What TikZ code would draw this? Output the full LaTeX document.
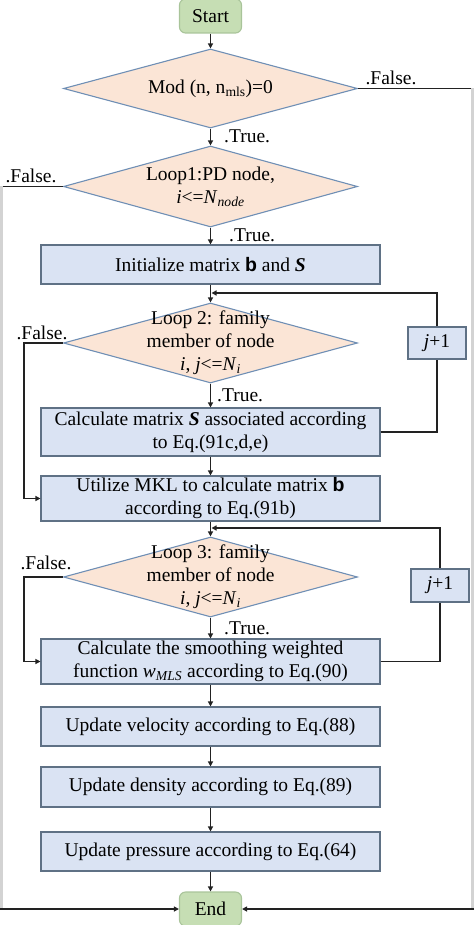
\documentclass[tikz,border=0pt]{standalone}
\usepackage{fontspec}
\setmainfont{Liberation Serif}
\setsansfont{Liberation Sans}
\usetikzlibrary{shapes.geometric,arrows.meta}
\definecolor{boxfill}{HTML}{DAE3F3}
\definecolor{boxline}{HTML}{5F7185}
\definecolor{dfill}{HTML}{FBE5D6}
\definecolor{dline}{HTML}{6F8FB5}
\definecolor{tfill}{HTML}{C6DEB4}
\definecolor{tline}{HTML}{A9C49A}
\definecolor{conn}{HTML}{222222}
\definecolor{edgegray}{HTML}{D3D3D3}
\tikzset{
  every node/.style={font=\fontsize{19.5}{23}\selectfont},
  procbox/.style={rectangle,draw=boxline,fill=boxfill,line width=1.1pt,minimum width=339pt,inner sep=0pt,align=center},
  decbox/.style={diamond,draw=dline,fill=dfill,line width=1.1pt,minimum width=294pt,inner sep=0pt},
  dtext/.style={align=center,inner sep=0pt},
  termbox/.style={rectangle,rounded corners=6pt,draw=tline,fill=tfill,line width=1.1pt,minimum width=62pt,minimum height=34pt,inner sep=0pt},
  incbox/.style={rectangle,draw=boxline,fill=boxfill,line width=1.1pt,minimum width=58pt,minimum height=32pt,inner sep=0pt},
  conline/.style={draw=conn,line width=1.4pt},
  arr/.style={conline,-{Triangle[length=5pt,width=5pt]}},
  edgeline/.style={draw=edgegray,line width=3pt},
  lab/.style={inner sep=0pt}
}
\begin{document}
\begin{tikzpicture}[x=1pt,y=-1pt]
\path[use as bounding box] (0,0) rectangle (474,925);
\clip (0,0) rectangle (474,925);
% nodes
\node[termbox] (start) at (210.5,16) {Start};
\node[decbox,minimum height=79pt] (d1) at (210.5,88.5) {};
\node[dtext] at (d1.center) {Mod (n, n\textsubscript{mls})=0};
\node[decbox,minimum height=81pt] (d2) at (210.5,186.5) {};
\node[dtext] at (d2.center) {Loop1:PD node,\\\textit{i}<=\textit{N}\textsubscript{\textit{node}}};
\node[procbox,minimum height=39pt] (b1) at (210.5,264.5) {Initialize matrix {\sffamily\bfseries b} and \textbf{\textit{S}}};
\node[decbox,minimum height=80pt] (d3) at (210.5,343) {};
\node[dtext] at (d3.center) {Loop 2: family\\member of node\\\textit{i}, \textit{j}<=\textit{N}\textsubscript{\textit{i}}};
\node[procbox,minimum height=48pt] (b2) at (210.5,432) {Calculate matrix \textbf{\textit{S}} associated according\\to Eq.(91c,d,e)};
\node[procbox,minimum height=45pt] (b3) at (210.5,498.5) {Utilize MKL to calculate matrix {\sffamily\bfseries b}\\according to Eq.(91b)};
\node[decbox,minimum height=80pt] (d4) at (210.5,577) {};
\node[dtext] at (d4.center) {Loop 3: family\\member of node\\\textit{i}, \textit{j}<=\textit{N}\textsubscript{\textit{i}}};
\node[procbox,minimum height=45pt] (b4) at (210.5,661.5) {Calculate the smoothing weighted\\function \textit{w}\textsubscript{\textit{MLS}} according to Eq.(90)};
\node[procbox,minimum height=39pt] (b5) at (210.5,726.5) {Update velocity according to Eq.(88)};
\node[procbox,minimum height=40pt] (b6) at (210.5,787) {Update density according to Eq.(89)};
\node[procbox,minimum height=39pt] (b7) at (210.5,851.5) {Update pressure according to Eq.(64)};
\node[termbox] (end) at (210.5,909) {End};
\node[incbox] (j1) at (437,343) {\textit{j}+1};
\node[incbox,minimum height=33pt] (j2) at (440,585.5) {\textit{j}+1};
% coordinates
\coordinate (rtop) at (474,88.5);
\coordinate (rbot) at (474,909);
\coordinate (ltop) at (0,186.5);
\coordinate (lbot) at (0,909);
\coordinate (m3) at (210.5,293);
\coordinate (m4) at (210.5,528);
% main flow
\draw[arr] (start) -- (d1);
\draw[arr] (d1) -- (d2) node[lab,pos=0.45,right=13pt] {.True.};
\draw[arr] (d2) -- (b1) node[lab,pos=0.45,right=18pt] {.True.};
\draw[arr] (b1) -- (d3);
\draw[arr] (d3) -- (b2) node[lab,pos=0.5,right=6pt] {.True.};
\draw[arr] (b2) -- (b3);
\draw[arr] (b3) -- (d4);
\draw[arr] (d4) -- (b4) node[lab,pos=0.5,right=13pt] {.True.};
\draw[arr] (b4) -- (b5);
\draw[arr] (b5) -- (b6);
\draw[arr] (b6) -- (b7);
\draw[arr] (b7) -- (end);
% false branches to end
\draw[conline] (d1.east) -- (rtop);
\node[lab] at (391,78) {.False.};
\draw[edgeline] (472.5,88.5) -- (472.5,909);
\draw[arr] (rbot) -- (end.east);
\draw[conline] (d2.west) -- (ltop);
\node[lab] at (31,176) {.False.};
\draw[edgeline] (1.5,186.5) -- (1.5,909);
\draw[arr] (lbot) -- (end.west);
% loop 2
\draw[conline] (b2.east) -| (j1.south);
\draw[arr] (j1.north) |- ([xshift=1pt]m3);
\draw[arr] (d3.west) -- (24,343) |- (b3.west);
\node[lab] at (42,333) {.False.};
% loop 3
\draw[conline] (b4.east) -| (j2.south);
\draw[arr] (j2.north) |- ([xshift=1pt]m4);
\draw[arr] (d4.west) -- (24,577) |- (b4.west);
\node[lab] at (46,563) {.False.};
\end{tikzpicture}
\end{document}
